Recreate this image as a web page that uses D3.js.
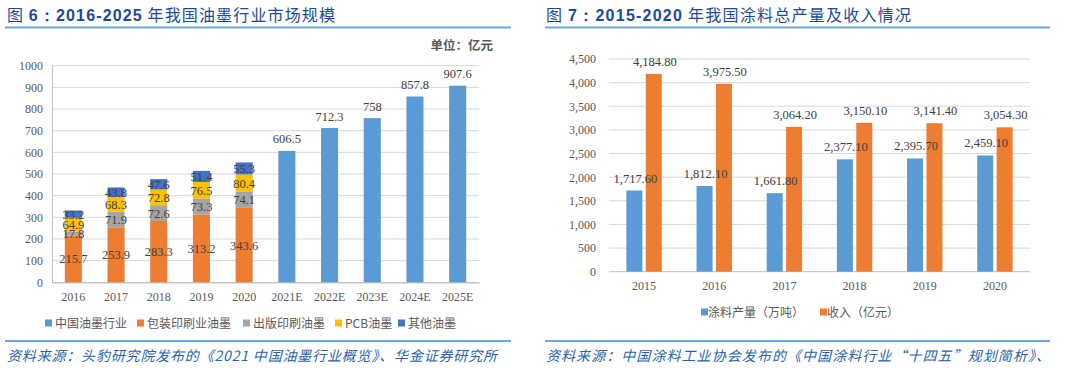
<!DOCTYPE html>
<html>
<head>
<meta charset="utf-8">
<script src="https://cdn.jsdelivr.net/npm/d3@7"></script>
<style>
  body { margin: 0; background: #fff; }
  svg { display: block; }
</style>
</head>
<body>
<svg id="chart" width="1066" height="369"></svg>
<script>
// ---- left chart data (图6) ----
const inkYears = ["2016", "2017", "2018", "2019", "2020", "2021E", "2022E", "2023E", "2024E", "2025E"];
const stackYears = ["2016", "2017", "2018", "2019", "2020"];
const packagingInk = [215.7, 253.9, 283.3, 313.2, 343.6];
const publishingInk = [17.8, 71.9, 72.6, 73.3, 74.1];
const pcbInk = [64.9, 68.3, 72.8, 76.5, 80.4];
const otherInk = [33.2, 43.8, 47.6, 51.4, 55.3];
const forecastYears = ["2021E", "2022E", "2023E", "2024E", "2025E"];
const industryTotal = [606.5, 712.3, 758, 857.8, 907.6];
const inkTicks = [0, 100, 200, 300, 400, 500, 600, 700, 800, 900, 1000];
const inkLegend = ["中国油墨行业", "包装印刷业油墨", "出版印刷油墨", "PCB油墨", "其他油墨"];

// ---- right chart data (图7) ----
const coatYears = ["2015", "2016", "2017", "2018", "2019", "2020"];
const coatOutput = [1717.6, 1812.1, 1661.8, 2377.1, 2395.7, 2459.1];
const coatRevenue = [4184.8, 3975.5, 3064.2, 3150.1, 3141.4, 3054.3];
const coatTicks = [0, 500, 1000, 1500, 2000, 2500, 3000, 3500, 4000, 4500];
const coatLegend = ["涂料产量（万吨）", "收入（亿元）"];

const BLUE = "#5B9BD5", ORANGE = "#ED7D31", GRAY = "#A5A5A5", GOLD = "#FFC000", DKBLUE = "#4472C4";
const TITLE = "#1B4A9A", SRC = "#2763B0", TXT = "#595959", LBL = "#404040";
const SERIF = "'Liberation Serif', 'Times New Roman', serif";
const CJK = "'Noto Sans CJK SC', 'Liberation Sans', sans-serif";

const svg = d3.select("#chart");
svg.append("rect").attr("width", 1066).attr("height", 369).attr("fill", "#fff");

// header / footer helpers
function header(x, x1, x2, parts, len) {
  const t = svg.append("text").attr("x", x).attr("y", 21)
    .attr("font-family", CJK).attr("font-size", 16).attr("fill", TITLE)
    .attr("textLength", len).attr("lengthAdjust", "spacing");
  parts.forEach(p => t.append("tspan").attr("font-weight", p[1] ? "bold" : "normal")
    .attr("font-family", p[1] ? "'Liberation Sans', Arial, sans-serif" : CJK).text(p[0]));
  svg.append("line").attr("x1", x1).attr("x2", x2).attr("y1", 27.5).attr("y2", 27.5)
    .attr("stroke", "#6FA8DC").attr("stroke-width", 2);
  svg.append("line").attr("x1", x1).attr("x2", x2).attr("y1", 341).attr("y2", 341)
    .attr("stroke", "#6FA8DC").attr("stroke-width", 2);
}
function source(x, str, len) {
  svg.append("text").attr("x", x).attr("y", 361)
    .attr("font-family", CJK).attr("font-size", 14).attr("font-style", "italic")
    .attr("fill", SRC).attr("textLength", len).attr("lengthAdjust", "spacing").text(str);
}

header(7, 5, 511, [["图 ", false], ["6：2016-2025", true], [" 年我国油墨行业市场规模", false]], 328);
header(546, 545, 1050, [["图 ", false], ["7：2015-2020", true], [" 年我国涂料总产量及收入情况", false]], 365);
source(7, "资料来源：头豹研究院发布的《2021 中国油墨行业概览》、华金证券研究所", 490);
source(546, "资料来源：中国涂料工业协会发布的《中国涂料行业“十四五”规划简析》、", 504);

// ================= left chart =================
{
  const left = 52, right = 479, top = 65.7, bottom = 282.3;
  const x = d3.scaleBand().domain(inkYears).range([left, right]).paddingInner(0.6).paddingOuter(0.3);
  const y = d3.scaleLinear().domain([0, 1000]).range([bottom, top]);
  const g = svg.append("g");

  svg.append("text").attr("x", 493).attr("y", 50).attr("text-anchor", "end")
    .attr("font-family", CJK).attr("font-size", 12.5).attr("font-weight", "bold")
    .attr("fill", "#595959").text("单位：亿元");

  // gridlines
  g.append("g").selectAll("line").data(inkTicks.slice(1)).join("line")
    .attr("x1", left).attr("x2", right).attr("y1", d => y(d)).attr("y2", d => y(d))
    .attr("stroke", "#D9D9D9").attr("stroke-width", 1);

  const yAxis = g.append("g").attr("transform", `translate(${left},0)`)
    .call(d3.axisLeft(y).tickValues(inkTicks).tickFormat(d3.format("d")).tickSize(0).tickPadding(9));
  yAxis.select(".domain").attr("stroke", "#BFBFBF");
  yAxis.selectAll("text").attr("font-family", SERIF).attr("font-size", 12).attr("fill", TXT);

  // stacked bars
  const rows = stackYears.map((yr, i) => ({ year: yr, pack: packagingInk[i], pub: publishingInk[i], pcb: pcbInk[i], other: otherInk[i] }));
  const keys = ["pack", "pub", "pcb", "other"];
  const colors = { pack: ORANGE, pub: GRAY, pcb: GOLD, other: DKBLUE };
  const series = d3.stack().keys(keys)(rows);

  const sg = g.append("g").selectAll("g").data(series).join("g").attr("fill", d => colors[d.key]);
  sg.selectAll("rect").data(d => d).join("rect")
    .attr("x", d => x(d.data.year)).attr("width", x.bandwidth())
    .attr("y", d => y(d[1])).attr("height", d => y(d[0]) - y(d[1]));
  g.append("g").selectAll("g").data(series).join("g")
    .selectAll("text").data(d => d.map(v => ({ v, key: d.key }))).join("text")
    .attr("x", d => x(d.v.data.year) + x.bandwidth() / 2)
    .attr("y", d => y((d.v[0] + d.v[1]) / 2) + 4.5)
    .attr("text-anchor", "middle").attr("font-family", SERIF).attr("font-size", 12.5)
    .attr("fill", LBL).text(d => d.v.data[d.key]);

  // forecast bars
  g.append("g").selectAll("rect").data(forecastYears).join("rect")
    .attr("x", d => x(d)).attr("width", x.bandwidth())
    .attr("y", (d, i) => y(industryTotal[i])).attr("height", (d, i) => bottom - y(industryTotal[i]))
    .attr("fill", BLUE);
  g.append("g").selectAll("text").data(forecastYears).join("text")
    .attr("x", d => x(d) + x.bandwidth() / 2).attr("y", (d, i) => y(industryTotal[i]) - 7.5)
    .attr("text-anchor", "middle").attr("font-family", SERIF).attr("font-size", 12.5)
    .attr("fill", LBL).text((d, i) => industryTotal[i]);

  const xAxis = g.append("g").attr("transform", `translate(0,${bottom})`)
    .call(d3.axisBottom(x).tickSize(0).tickPadding(10));
  xAxis.select(".domain").attr("stroke", "#A6A6A6");
  xAxis.selectAll("text").attr("font-family", SERIF).attr("font-size", 12).attr("fill", TXT);

  // legend
  const lx = [45, 137, 243, 335, 398];
  const lc = [BLUE, ORANGE, GRAY, GOLD, DKBLUE];
  const lg = g.append("g").selectAll("g").data(inkLegend).join("g")
    .attr("transform", (d, i) => `translate(${lx[i]},323)`);
  lg.append("rect").attr("x", 0).attr("y", -3.5).attr("width", 7).attr("height", 7).attr("fill", (d, i) => lc[i]);
  lg.append("text").attr("x", 10).attr("y", 4.5).attr("font-family", CJK).attr("font-size", 12)
    .attr("fill", TXT).text(d => d);
}

// ================= right chart =================
{
  const left = 609, right = 1030, top = 59, bottom = 271.7;
  const x = d3.scaleBand().domain(coatYears).range([left, right]);
  const y = d3.scaleLinear().domain([0, 4500]).range([bottom, top]);
  const bw = 16, gap = 3.4;
  const g = svg.append("g");

  g.append("g").selectAll("line").data(coatTicks).join("line")
    .attr("x1", left).attr("x2", right).attr("y1", d => y(d)).attr("y2", d => y(d))
    .attr("stroke", d => d === 0 ? "#BFBFBF" : "#D9D9D9").attr("stroke-width", 1);

  const yAxis = g.append("g").attr("transform", `translate(${left},0)`)
    .call(d3.axisLeft(y).tickValues(coatTicks).tickFormat(d3.format(",")).tickSize(0).tickPadding(13));
  yAxis.select(".domain").remove();
  yAxis.selectAll("text").attr("font-family", SERIF).attr("font-size", 12).attr("fill", TXT);

  const fmt = d3.format(",.2f");
  const groups = [
    { vals: coatOutput, color: BLUE, off: -gap / 2 - bw },
    { vals: coatRevenue, color: ORANGE, off: gap / 2 }
  ];
  const barLayer = g.append("g"), labelLayer = g.append("g");
  groups.forEach(s => {
    const cx = d => x(d) + x.bandwidth() / 2 + s.off;
    barLayer.append("g").selectAll("rect").data(coatYears).join("rect")
      .attr("x", cx).attr("width", bw)
      .attr("y", (d, i) => y(s.vals[i])).attr("height", (d, i) => bottom - y(s.vals[i]))
      .attr("fill", s.color);
    labelLayer.append("g").selectAll("text").data(coatYears).join("text")
      .attr("x", d => cx(d) + bw / 2 + 1).attr("y", (d, i) => y(s.vals[i]) - 8)
      .attr("text-anchor", "middle").attr("font-family", SERIF).attr("font-size", 12.5)
      .attr("fill", LBL).text((d, i) => fmt(s.vals[i]));
  });

  const xAxis = g.append("g").attr("transform", `translate(0,${bottom})`)
    .call(d3.axisBottom(x).tickSize(0).tickPadding(10));
  xAxis.select(".domain").remove();
  xAxis.selectAll("text").attr("font-family", SERIF).attr("font-size", 12).attr("fill", TXT);

  const lx = [701, 820];
  const lc = [BLUE, ORANGE];
  const lg = g.append("g").selectAll("g").data(coatLegend).join("g")
    .attr("transform", (d, i) => `translate(${lx[i]},312)`);
  lg.append("rect").attr("x", 0).attr("y", -3.5).attr("width", 7).attr("height", 7).attr("fill", (d, i) => lc[i]);
  lg.append("text").attr("x", 7).attr("y", 4.5).attr("font-family", CJK).attr("font-size", 12)
    .attr("fill", TXT).text(d => d);
}
</script>
</body>
</html>
